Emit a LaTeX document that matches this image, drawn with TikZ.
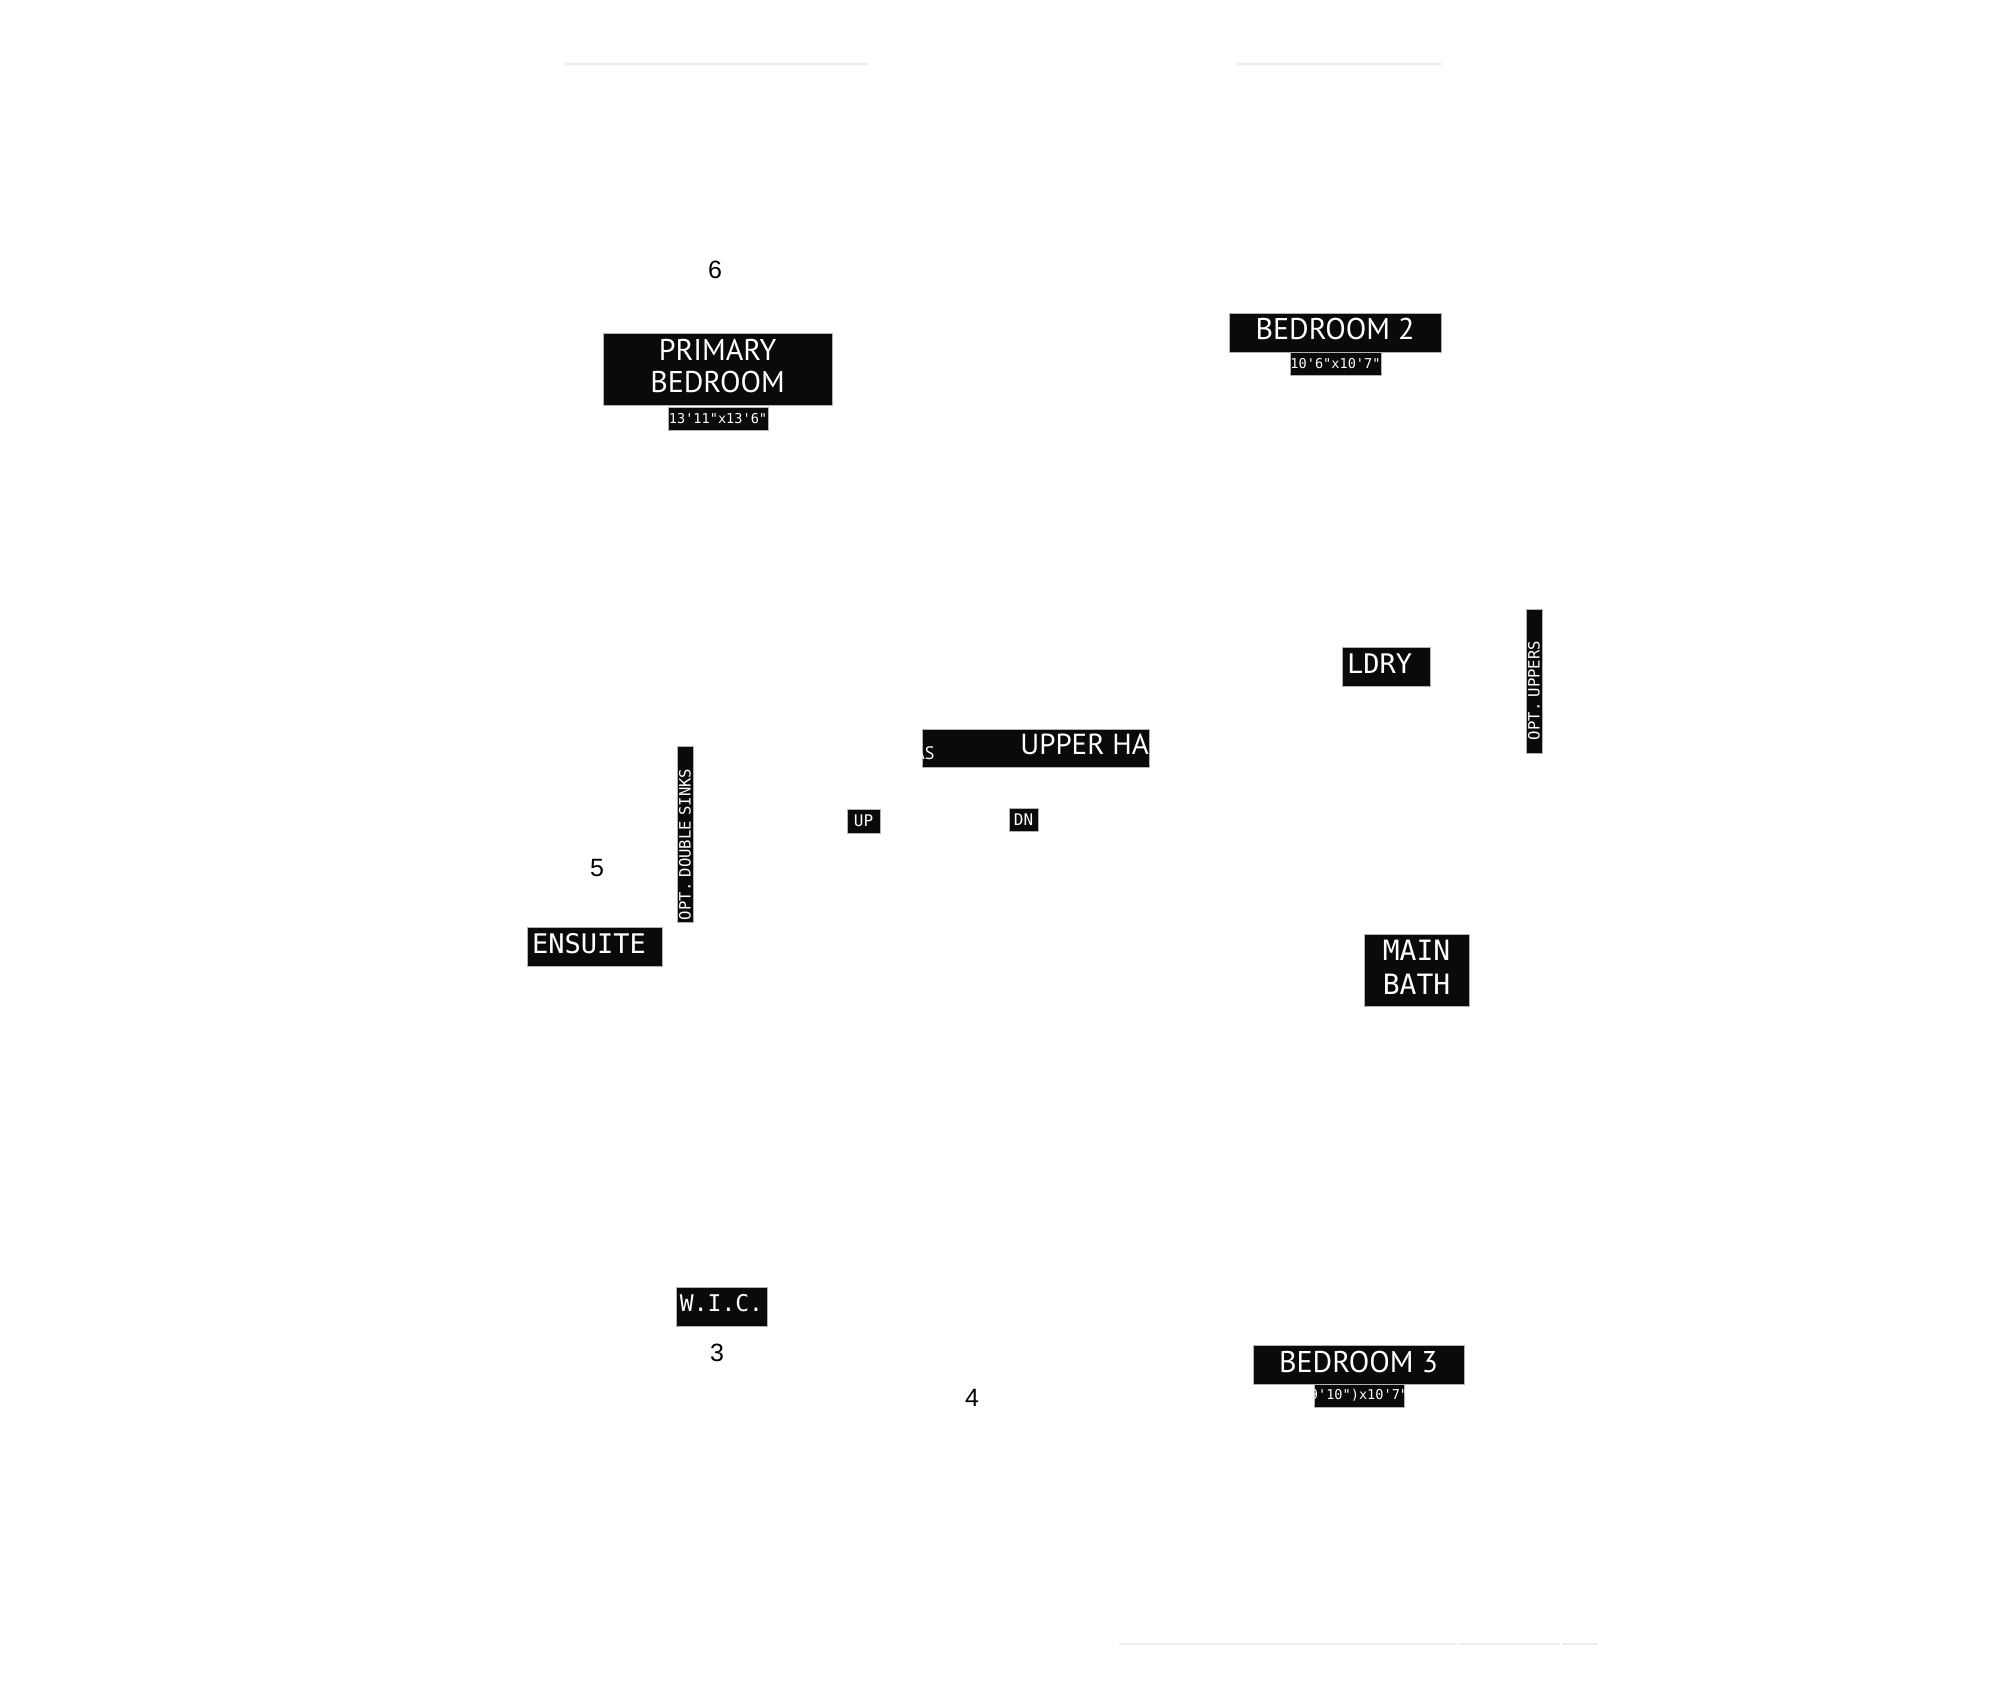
\documentclass[tikz,border=0pt]{standalone}
\usepackage{fontspec}
\setmainfont{Liberation Sans}
\setmonofont{DejaVu Sans Mono}
\newfontfamily\roomfont{PT Sans}
\definecolor{tagbg}{HTML}{0A0A0A}
\definecolor{wallrule}{HTML}{ECECEC}

\begin{document}
\begin{tikzpicture}[x=0.5pt,y=-0.5pt,
    tag/.style={fill=tagbg,draw=gray!60,line width=0.4pt,text=white,inner sep=0pt},
    room/.style={tag,font=\roomfont\fontsize{15}{16.5}\selectfont,align=center,text height=10.5pt,text depth=3pt},
    mono/.style={tag,font=\ttfamily\fontsize{13.5}{17}\selectfont,text height=9.8pt,text depth=3pt},
    dim/.style={tag,font=\ttfamily\fontsize{6.8}{8}\selectfont,minimum height=11.5pt},
    small/.style={tag,font=\ttfamily\fontsize{8}{9}\selectfont},
    num/.style={font=\fontsize{12.5}{14}\selectfont},
    wall/.style={wallrule,line width=1pt}]
    \useasboundingbox (0,0) rectangle (2000,1706);

    % faint wall lines
    \draw[wall] (565,64) -- (869,64);
    \draw[wall] (1237,64) -- (1442,64);
    \draw[wall] (1119,1644) -- (1457,1644);
    \draw[wall] (1459,1644) -- (1560,1644);
    \draw[wall] (1562,1644) -- (1598,1644);

    % numbers
    \node[num] (n6) at (715,270) {6};
    \node[num] (n5) at (597,868) {5};
    \node[num] (n3) at (717,1353) {3};
    \node[num] (n4) at (972,1398) {4};

    % rooms
    \node[room,text height=27pt,minimum width=114.5pt,minimum height=36pt] (primary) at (717.5,369) {PRIMARY\\BEDROOM};
    \node[dim,minimum width=50pt] (primarydim) at (718,419) {13'11"x13'6"};
    \node[room,minimum width=106pt,minimum height=19.5pt] (bed2) at (1335,332.5) {BEDROOM 2};
    \node[dim,minimum width=45.5pt] (bed2dim) at (1335.5,363.5) {10'6"x10'7"};
    \node[room,minimum width=105.5pt,minimum height=19.5pt] (bed3) at (1358.5,1364.5) {BEDROOM 3};
    \node[dim,minimum width=45pt] (bed3dim) at (1359,1395.5) {};
    \begin{scope}
        \clip (bed3dim.south west) rectangle (bed3dim.north east);
        \node[text=white,inner sep=0pt,font=\ttfamily\fontsize{6.8}{8}\selectfont] (bed3size) at (bed3dim.center) {9'10")x10'7"};
    \end{scope}

    \node[mono,text width=39pt,inner xsep=2.5pt,minimum height=19.5pt,align=left] (ldry) at (1386,666.5) {LDRY};
    \node[mono,text width=62.5pt,inner xsep=2.5pt,minimum height=19.5pt,align=left] (ensuite) at (594.5,946.5) {ENSUITE};
    \node[mono,font=\ttfamily\fontsize{14}{17}\selectfont,text height=27.2pt,minimum width=52.5pt,minimum height=36pt,align=center] (bath) at (1416.5,970) {MAIN\\BATH};
    \node[mono,font=\ttfamily\fontsize{11.5}{14}\selectfont,text height=8.4pt,text depth=3.5pt,minimum width=45.5pt,minimum height=19.5pt] (wic) at (721.5,1306.5) {W.I.C.};

    % hall, cut off at both ends
    \node[tag,minimum width=113.5pt,minimum height=19pt] (hall) at (1035.5,748) {};
    \begin{scope}
        \clip (917,729) rectangle (hall.south east);
        \node[anchor=base west,text=white,inner sep=0pt,font=\roomfont\fontsize{14.5}{16}\selectfont] (halltext) at (1020,754) {UPPER HA};
        \node[anchor=base west,text=white,inner sep=0pt,font=\roomfont\fontsize{9}{10}\selectfont] (hallmore) at (914,759) {AS};
    \end{scope}
    \node[small,minimum width=16.5pt,minimum height=12pt] (up) at (863.5,821) {UP};
    \node[small,minimum width=14.5pt,minimum height=11.5pt] (dn) at (1023.5,819.5) {DN};

    % vertical notes
    \node[small,rotate=90,font=\ttfamily\fontsize{7.8}{9}\selectfont,text width=86pt,inner xsep=1pt,minimum height=8pt,align=left] (sinks) at (685,834) {OPT. DOUBLE SINKS};
    \node[small,rotate=90,font=\ttfamily\fontsize{7.8}{9}\selectfont,text width=59pt,inner xsep=6.5pt,minimum height=8pt,align=left] (uppers) at (1534,681) {OPT. UPPERS};
\end{tikzpicture}
\end{document}
